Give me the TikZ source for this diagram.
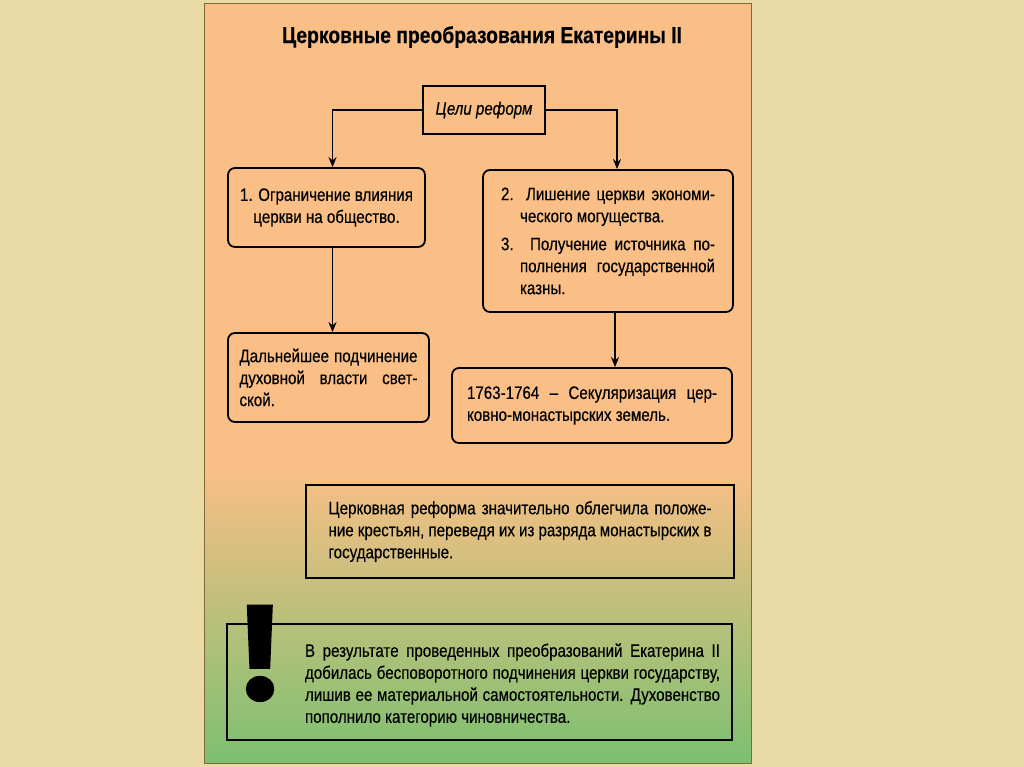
\documentclass[tikz,border=0pt]{standalone}
\usepackage{fontspec}
\usepackage{graphicx}
\setmainfont{Liberation Sans}[FakeStretch=0.84, FakeBold=0.4]
\newfontfamily\markfont{Poppins}[FakeBold=1.5]
\usetikzlibrary{arrows.meta, positioning}
\definecolor{paperbg}{RGB}{234,218,166}
\definecolor{panelorange}{RGB}{249,191,134}
\definecolor{paneltan}{RGB}{224,198,126}
\definecolor{panelgreen}{RGB}{124,192,112}
\definecolor{panelrim}{RGB}{125,105,60}

\begin{document}
\begin{tikzpicture}[
    x=1pt, y=-1pt,
    rbox/.style={draw, line width=1.8pt, rounded corners=7pt, inner sep=0pt, font=\fontsize{18}{22}\selectfont},
    plainbox/.style={draw, line width=1.7pt, inner sep=0pt},
    bodytext/.style={font=\fontsize{18}{22}\selectfont, align=justify, inner sep=0pt},
    arrow/.style={-{Stealth[length=10pt, width=8pt]}, line width=1.6pt}
]
    % Background and panel
    \useasboundingbox (0,0) rectangle (1024,767);
    \fill[paperbg] (0,0) rectangle (1024,767);
    \fill[panelorange] (204,4) rectangle (751,475);
    \shade[top color=panelorange, middle color=paneltan, bottom color=panelgreen] (204,470) rectangle (751,763);
    \draw[panelrim, line width=1pt] (204,4) rectangle (751,763);

    % Entities
    \node[font=\bfseries\fontsize{23}{28}\selectfont] (title) at (482,37) {Церковные преобразования Екатерины II};
    \node[plainbox, minimum width=122, minimum height=48, font=\itshape\fontsize{18}{22}\selectfont] (goals) at (484,110) {Цели реформ};
    \node[rbox, minimum width=197, minimum height=79, align=center] (limit) at (326.5,207.5)
        {1. Ограничение влияния\\церкви на общество.};
    \node[rbox, minimum width=250, minimum height=142, text width=214, align=justify] (wealth) at (608,241)
        {\noindent{\hangindent=19pt\hangafter=1 2. Лишение церкви экономи-\linebreak ческого могущества.\par}
        \vspace{6pt}
        \noindent{\hangindent=19pt\hangafter=1 3. Получение источника по-\linebreak полнения государственной\linebreak казны.\par}};
    \node[rbox, minimum width=201, minimum height=89, text width=178, align=justify] (subordination) at (328.5,377.5)
        {Дальнейшее подчинение\linebreak духовной власти свет-\linebreak ской.};
    \node[rbox, minimum width=280, minimum height=75, text width=250, align=justify] (secularization) at (592,405.5)
        {1763-1764 – Секуляризация цер-\linebreak ковно-монастырских земель.};
    \node[plainbox, minimum width=428, minimum height=93, text width=383, bodytext] (peasants) at (520,531.5)
        {Церковная реформа значительно облегчила положе-\linebreak ние крестьян, переведя их из разряда монастырских в\linebreak государственные.};
    \node[plainbox, minimum width=505, minimum height=116] (result) at (479.5,682) {};
    \node[bodytext, text width=415] (resulttext) at (512.5,685)
        {В результате проведенных преобразований Екатерина II\linebreak добилась бесповоротного подчинения церкви государству,\linebreak лишив ее материальной самостоятельности. Духовенство\linebreak пополнило категорию чиновничества.};
    \node[anchor=base, inner sep=0pt, font=\markfont\bfseries\fontsize{130}{130}\selectfont] (resultmark) at (260,700) {!};

    % Relationships
    \draw[arrow] (goals.west) -| ([xshift=6pt]limit.north);
    \draw[arrow] (goals.east) -| ([xshift=9pt]wealth.north);
    \draw[arrow] ([xshift=6pt]limit.south) -- ([xshift=6pt]limit.south |- subordination.north);
    \draw[arrow] ([xshift=7pt]wealth.south) -- ([xshift=7pt]wealth.south |- secularization.north);
\end{tikzpicture}
\end{document}
